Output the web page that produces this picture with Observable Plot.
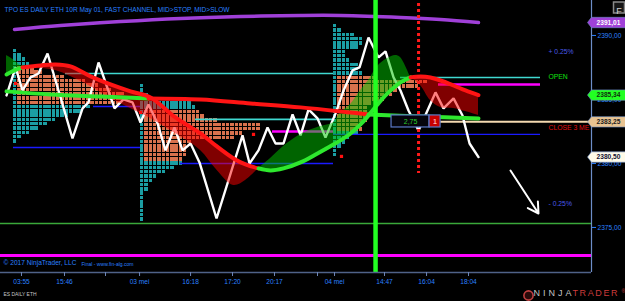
<!DOCTYPE html>
<html><head><meta charset="utf-8">
<script src="https://cdn.jsdelivr.net/npm/d3@7"></script>
<script src="https://cdn.jsdelivr.net/npm/@observablehq/plot@0.6"></script>
<style>html,body{margin:0;padding:0;background:#000;overflow:hidden}#chart{width:625px;height:301px}</style>
</head><body><div id="chart"></div>
<script>
// ---------- data (bar index, price) ----------
const closeBars = [0,1.05,1.86,2.79,3.72,4.77,6.28,7.67,8.84,9.53,10.70,11.63,12.56,13.60,14.65,15.58,16.51,17.56,18.49,19.53,20.47,21.40,22.44,24.42,27.44,28.26,29.30,30.35,31.28,32.21,33.26,34.19,35.12,36.16,37.09,38.26,39.19,40.23,41.05,42.09,43.26,44.07,45.00,45.81,46.74,47.91,48.95,49.88,50.81,51.98,53.02,53.84,54.88];
const closePrices = [2385.31,2387.50,2385.70,2386.72,2387.03,2388.59,2385.16,2381.95,2384.30,2384.77,2387.89,2386.09,2384.30,2385.00,2384.77,2383.20,2384.61,2383.13,2381.02,2382.81,2381.02,2381.56,2380.08,2375.70,2382.19,2380.00,2381.02,2382.81,2381.56,2381.56,2383.83,2382.19,2384.22,2383.52,2382.03,2383.91,2385.70,2387.27,2387.50,2389.84,2388.28,2388.75,2386.72,2385.70,2384.14,2382.58,2384.14,2385.55,2384.30,2385.08,2383.75,2381.56,2380.50];

const fastBars = [0,0.93,1.86,3.95,5.70,7.44,9.77,12.09,14.42,16.74,19.65,22.56,24.30,26.40,27.79,29.30,30.70,32.21,34.19,36.16,38.02,38.84,40.00,41.16,42.09,43.14,44.30,45.23,45.81,46.98,48.14,49.30,50.47,51.98,53.37,54.88];
const fastPrices = [2386.95,2387.27,2387.50,2387.66,2387.73,2387.58,2386.80,2386.17,2385.63,2385.16,2383.59,2382.34,2381.41,2380.39,2379.92,2379.61,2379.45,2379.61,2380.08,2380.78,2381.48,2381.80,2382.34,2383.05,2383.75,2384.61,2385.47,2386.02,2386.33,2386.72,2386.80,2386.72,2386.48,2386.09,2385.70,2385.34];
const bandPrices = [2388.44,2388.05,2387.50,2387.42,2387.27,2386.80,2386.02,2385.08,2384.30,2383.52,2382.34,2381.02,2379.61,2378.28,2378.67,2379.61,2380.39,2381.33,2382.27,2382.81,2383.20,2383.98,2384.61,2385.70,2386.48,2387.58,2388.20,2388.44,2388.28,2386.72,2386.09,2384.92,2384.38,2384.30,2384.06,2383.75];
const fastState = ["long","long",
  "short","short","short","short","short","short","short","short","short","short","short","short","short",
  "long","long","long","long","long","long","long","long","long","long","long","long","long","long",
  "short","short","short","short","short","short"];

const midBars = [0,5.12,10.93,16.51,22.56,28.37,34.19,40.00,42.09,48.14,54.88];
const midPrices = [2385.63,2385.39,2385.23,2385.08,2385.00,2384.69,2384.38,2383.98,2383.83,2383.67,2383.52];
const midState = ["long","long","long","short","short","short","short","short","long","long"];

const slowBars = [0.93,6.28,13.26,20.23,27.21,34.19,38.84,45.81,50.47,54.88];
const slowPrices = [2390.47,2390.78,2391.09,2391.33,2391.48,2391.56,2391.56,2391.41,2391.25,2391.01];

// TPO profiles
const tpoStartBars = [0.81, 15.58, 38.02];
const tpoTopPrices = [2388.91, 2386.17, 2390.86];
const tpoWidths1 = [1,2,3,4,5,7,12,17,20,23,26,27,25,18,16,13,10,8,6,4,2,1];
const tpoWidths2 = [1,1,2,4,12,13,14,15,18,28,28,24,22,12,11,11,11,10,10,8,6,4,3,2,2,1,1,1,1,1,1,1];
const tpoWidths3 = [1,2,5,7,7,6,3,3,4,6,6,7,10,22,20,15,14,12,9,8,8,8,8,7,7,6,4,3,2,1,1];
const tpoValueFrom = [4, 6, 12];
const tpoValueTo = [12, 17, 24];
const tpoOpenBars = [1.05, 15.58, 28.72, 38.95];
const tpoOpenPrices = [2386.25, 2383.98, 2382.27, 2380.55];

// horizontal levels
const levelPrices = [2387.03,2386.72,2383.44,2384.45,2381.25,2380.00,2382.27,2386.17,2382.50,2383.25];
const levelFrom   = [6.86,45.81,21.98,10.12,0.81,20.23,38.02,50.23,30.93,44.77];
const levelTo     = [38.02,62.09,38.02,15.58,15.58,38.02,62.09,62.09,38.02,68.02];
const levelKinds  = ["open","open","poc","va","va","va","va","prior","prior","close"];
const floorLevel = 2375.31;
const baseLevel = 2372.81;

const sideLabels = ["+ 0.25%","OPEN","CLOSE 3 ME","- 0.25%"];
const sideLabelPrices = [2388.75,2386.80,2382.81,2376.88];
const sideLabelBar = 63.02;

const sessionLineBar = 42.91;
const signalLineBar = 47.91;
const signalLinePrices = [2392.50, 2379.22];
const signalBoxBars = [44.77, 49.19, 50.47];
const signalBoxPrices = [2383.75, 2382.81];
const signalTexts = ["2,75", "1"];

const arrowBars = [58.60, 61.86];
const arrowPrices = [2379.45, 2376.09];

const badgePrices = [2391.01, 2385.34, 2383.25, 2380.50];

const tickBars = [1.74,6.74,11.51,15.47,21.40,26.28,31.16,36.16,38.14,43.95,48.84,53.72];
const tickLabels = ["03:55","15:46","","03 mei","16:18","17:20","20:17","","04 mei","14:47","16:04","18:04"];
const priceTicks = [2390, 2385, 2380, 2375];

// ---------- helpers / styles ----------
const FONT = "Liberation Sans, Arial, Helvetica, sans-serif";
const BLUE = "#2b80ff";
const fmt = v => v.toFixed(2).replace(".", ",");
const lineColor = {long: "#2ee82e", short: "#ff1414"};
const fillColor = {long: "#00c800", short: "#ff0000"};
const levelStyle = {
  open: {stroke: "#3fd8d0", w: 1.6},
  poc: {stroke: "#3fd8d0", w: 1.6},
  va: {stroke: "#1a1aff", w: 1.4},
  prior: {stroke: "#ff00ff", w: 2.6},
  close: {stroke: "#f3d9b0", w: 2}
};
const badgeFill = ["#a040d8", "#22ff22", "#e8c391", "#fffbe8"];
const badgeInk = ["#ffffff", "#103010", "#202020", "#101030"];
const sideInk = ["#4a5ae8", "#10e010", "#e01010", "#4a5ae8"];

const ROW = 0.336, BLOCK_H = 0.27, COL = 0.5, BLOCK_W = 0.4;

function runsOf(bars, a, b, states) {
  const out = []; let run = -1;
  for (let i = 0; i < bars.length - 1; i++) {
    if (i === 0 || states[i] !== states[i - 1]) {
      run++; out.push({bar: bars[i], a: a[i], b: b ? b[i] : null, run, state: states[i]});
    }
    out.push({bar: bars[i + 1], a: a[i + 1], b: b ? b[i + 1] : null, run, state: states[i]});
  }
  return out;
}

const tpoCells = [];
[tpoWidths1, tpoWidths2, tpoWidths3].forEach((widths, s) => {
  widths.forEach((w, r) => {
    for (let c = 0; c < w; c++) {
      const y1 = tpoTopPrices[s] - r * ROW;
      const x1 = tpoStartBars[s] + c * COL;
      const va = r >= tpoValueFrom[s] && r <= tpoValueTo[s] && c > 0;
      tpoCells.push({x1, x2: x1 + BLOCK_W, y1, y2: y1 - BLOCK_H, color: va ? "#d9714d" : "#1b9ea3"});
    }
  });
});

const closeData = closeBars.map((b, i) => ({bar: b, price: closePrices[i]}));
const slowData = slowBars.map((b, i) => ({bar: b, price: slowPrices[i]}));
const fastRuns = runsOf(fastBars, fastPrices, bandPrices, fastState);
const midRuns = runsOf(midBars, midPrices, null, midState);
const levels = levelPrices.map((p, i) => ({price: p, from: levelFrom[i], to: levelTo[i], kind: levelKinds[i]}));
const tickMap = new Map(tickBars.map((b, i) => [b, tickLabels[i]]));
const badges = badgePrices.map((p, i) => ({price: p, fill: badgeFill[i], ink: badgeInk[i]}));
const sides = sideLabels.map((t, i) => ({text: t, price: sideLabelPrices[i], ink: sideInk[i]}));

const badgeShape = {draw(ctx) {
  ctx.moveTo(-4, 0); ctx.lineTo(0, -5.2); ctx.lineTo(34, -5.2); ctx.lineTo(34, 5.2); ctx.lineTo(0, 5.2); ctx.closePath();
}};

const xDomain = [-0.70, 68.02];
const yDomain = [2371.48, 2392.73];

const chart = Plot.plot({
  width: 625, height: 301,
  marginLeft: 0, marginRight: 34, marginTop: 0, marginBottom: 29,
  style: {background: "#000", color: BLUE, fontFamily: FONT, fontSize: "6.6px", overflow: "visible"},
  x: {domain: xDomain, axis: null, label: null},
  y: {domain: yDomain, axis: null, label: null},
  marks: [
    // TPO profiles
    Plot.rect(tpoCells, {x1: "x1", x2: "x2", y1: "y1", y2: "y2", fill: "color", shapeRendering: "crispEdges"}),
    Plot.dot(tpoOpenBars.map((b, i) => ({bar: b, price: tpoOpenPrices[i]})), {x: "bar", y: "price", symbol: "square", r: 1.8, fill: "#ff1010"}),
    // levels
    Plot.ruleY([floorLevel], {stroke: "#3aa83a", strokeWidth: 1.5}),
    Plot.ruleY([baseLevel], {stroke: "#ff00ff", strokeWidth: 3}),
    Plot.ruleY(levels, {y: "price", x1: "from", x2: "to", stroke: d => levelStyle[d.kind].stroke, strokeWidth: d => levelStyle[d.kind].w}),
    // price line
    Plot.line(closeData, {x: "bar", y: "price", stroke: "#ffffff", strokeWidth: 2.4, strokeLinejoin: "miter"}),
    // fast channel fill
    Plot.areaY(fastRuns, {x: "bar", y1: "a", y2: "b", z: "run", fill: d => fillColor[d.state], fillOpacity: 0.5, curve: "catmull-rom"}),
    // slow line
    Plot.line(slowData, {x: "bar", y: "price", stroke: "#a040d8", strokeWidth: 3.5, curve: "catmull-rom"}),
    // mid line
    Plot.line(midRuns, {x: "bar", y: "a", z: "run", stroke: d => lineColor[d.state], strokeWidth: 4, curve: "catmull-rom", strokeLinecap: "round"}),
    // fast line
    Plot.line(fastRuns, {x: "bar", y: "a", z: "run", stroke: d => lineColor[d.state], strokeWidth: 4, curve: "catmull-rom", strokeLinecap: "round"}),
    // verticals
    Plot.ruleX([sessionLineBar], {stroke: "#22ff22", strokeWidth: 4.5}),
    Plot.ruleX([signalLineBar], {y1: signalLinePrices[0], y2: signalLinePrices[1], stroke: "#ff1a1a", strokeWidth: 3, strokeDasharray: "3,3"}),
    // signal box
    Plot.rect([0], {x1: () => signalBoxBars[0], x2: () => signalBoxBars[1], y1: () => signalBoxPrices[0], y2: () => signalBoxPrices[1], fill: "#05050c", stroke: "#5a78c8", strokeWidth: 1.2}),
    Plot.rect([0], {x1: () => signalBoxBars[1], x2: () => signalBoxBars[2], y1: () => signalBoxPrices[0], y2: () => signalBoxPrices[1], fill: "#c80000", stroke: "#5a78c8", strokeWidth: 1.2}),
    Plot.text([signalTexts[0]], {x: () => (signalBoxBars[0] + signalBoxBars[1]) / 2, y: () => (signalBoxPrices[0] + signalBoxPrices[1]) / 2, text: d => d, fill: "#2ccf2c", fontSize: 7, fontFamily: FONT}),
    Plot.text([signalTexts[1]], {x: () => (signalBoxBars[1] + signalBoxBars[2]) / 2, y: () => (signalBoxPrices[0] + signalBoxPrices[1]) / 2, text: d => d, fill: "#ffb0b0", fontSize: 7, fontWeight: "bold", fontFamily: FONT}),
    // arrow
    Plot.arrow([0], {x1: () => arrowBars[0], y1: () => arrowPrices[0], x2: () => arrowBars[1], y2: () => arrowPrices[1], stroke: "#ffffff", strokeWidth: 2, headLength: 9}),
    // side labels
    Plot.text(sides, {x: () => sideLabelBar, y: "price", text: "text", fill: "ink", textAnchor: "start", fontSize: 6.8, fontFamily: FONT}),
    // axis lines
    Plot.ruleY([yDomain[0]], {stroke: "#4f6288", strokeWidth: 1.5}),
    Plot.ruleX([xDomain[1]], {stroke: "#6d8ec8", strokeWidth: 1.2}),
    // axes
    Plot.axisX(tickBars, {anchor: "bottom", tickFormat: d => tickMap.get(d), tickSize: 4, tickPadding: 3, stroke: "#6d86b8", fill: BLUE, fontSize: 6.6, fontFamily: FONT, label: null}),
    Plot.axisY(priceTicks, {anchor: "right", tickFormat: fmt, tickSize: 4, tickPadding: 2, stroke: BLUE, fill: BLUE, fontSize: 6.6, fontFamily: FONT, label: null}),
    // price badges
    Plot.dot(badges, {y: "price", frameAnchor: "right", symbol: badgeShape, r: 5, fill: "fill", stroke: "#6d8ec8", strokeWidth: 0.6}),
    Plot.text(badges, {y: "price", frameAnchor: "right", dx: 17, textAnchor: "middle", text: d => fmt(d.price), fill: "ink", fontSize: 6.6, fontWeight: "bold", fontFamily: FONT}),
    // titles and credits
    Plot.text(["TPO ES DAILY ETH 10R May 01, FAST CHANNEL, MID>STOP, MID>SLOW"], {frameAnchor: "top-left", dx: 4, dy: 7, text: d => d, textAnchor: "start", fill: BLUE, fontSize: 6.6, fontFamily: FONT}),
    Plot.text(["© 2017 NinjaTrader, LLC"], {frameAnchor: "bottom-left", dx: 3, dy: -8, text: d => d, textAnchor: "start", fill: BLUE, fontSize: 6.6, fontFamily: FONT}),
    Plot.text(["Final - www.fin-alg.com"], {frameAnchor: "bottom-left", dx: 81, dy: -7, text: d => d, textAnchor: "start", fill: BLUE, fontSize: 5, fontFamily: FONT}),
    Plot.text(["ES DAILY ETH"], {frameAnchor: "bottom-left", dx: 3, dy: 23, text: d => d, textAnchor: "start", fill: "#c8c8c8", fontSize: 4.8, fontFamily: FONT}),
    // F box
    Plot.dot([0], {frameAnchor: "top-right", dx: 27.5, dy: 7, symbol: "square", r: 6.2, stroke: "#8a8a8a", fill: "#161616", strokeWidth: 1.5}),
    Plot.text(["F"], {frameAnchor: "top-right", dx: 27.5, dy: 7, textAnchor: "middle", text: d => d, fill: "#d0d0d0", fontSize: 9, fontFamily: FONT}),
    // logo
    Plot.dot([0], {frameAnchor: "bottom-right", dx: -63, dy: 23, r: 4.6, stroke: "#c04040", strokeWidth: 1.6, fill: "#2a0a0a"}),
    Plot.text(["NINJA"], {frameAnchor: "bottom-right", dx: -58, dy: 23, text: d => d, textAnchor: "start", fill: "#c4c4c4", fontSize: 9, fontFamily: FONT}),
    Plot.text(["TRADER"], {frameAnchor: "bottom-right", dx: -19, dy: 23, text: d => d, textAnchor: "start", fill: "#cc3b3b", fontSize: 9, fontFamily: FONT}),
    Plot.text(["®"], {frameAnchor: "bottom-right", dx: 30, dy: 20, text: d => d, textAnchor: "start", fill: "#cc3b3b", fontSize: 5, fontFamily: FONT})
  ]
});

document.getElementById("chart").appendChild(chart);

// fit a few texts to their measured widths
const fitWidths = {
  "TPO ES DAILY ETH 10R May 01, FAST CHANNEL, MID>STOP, MID>SLOW": [225, "spacingAndGlyphs"],
  "© 2017 NinjaTrader, LLC": [73, "spacingAndGlyphs"],
  "Final - www.fin-alg.com": [52, "spacingAndGlyphs"],
  "ES DAILY ETH": [33, "spacingAndGlyphs"],
  "NINJA": [38, "spacing"],
  "TRADER": [45, "spacing"]
};
d3.select(chart).selectAll("text").each(function() {
  const f = fitWidths[this.textContent];
  if (f) { this.setAttribute("textLength", f[0]); this.setAttribute("lengthAdjust", f[1]); }
});
</script></body></html>
